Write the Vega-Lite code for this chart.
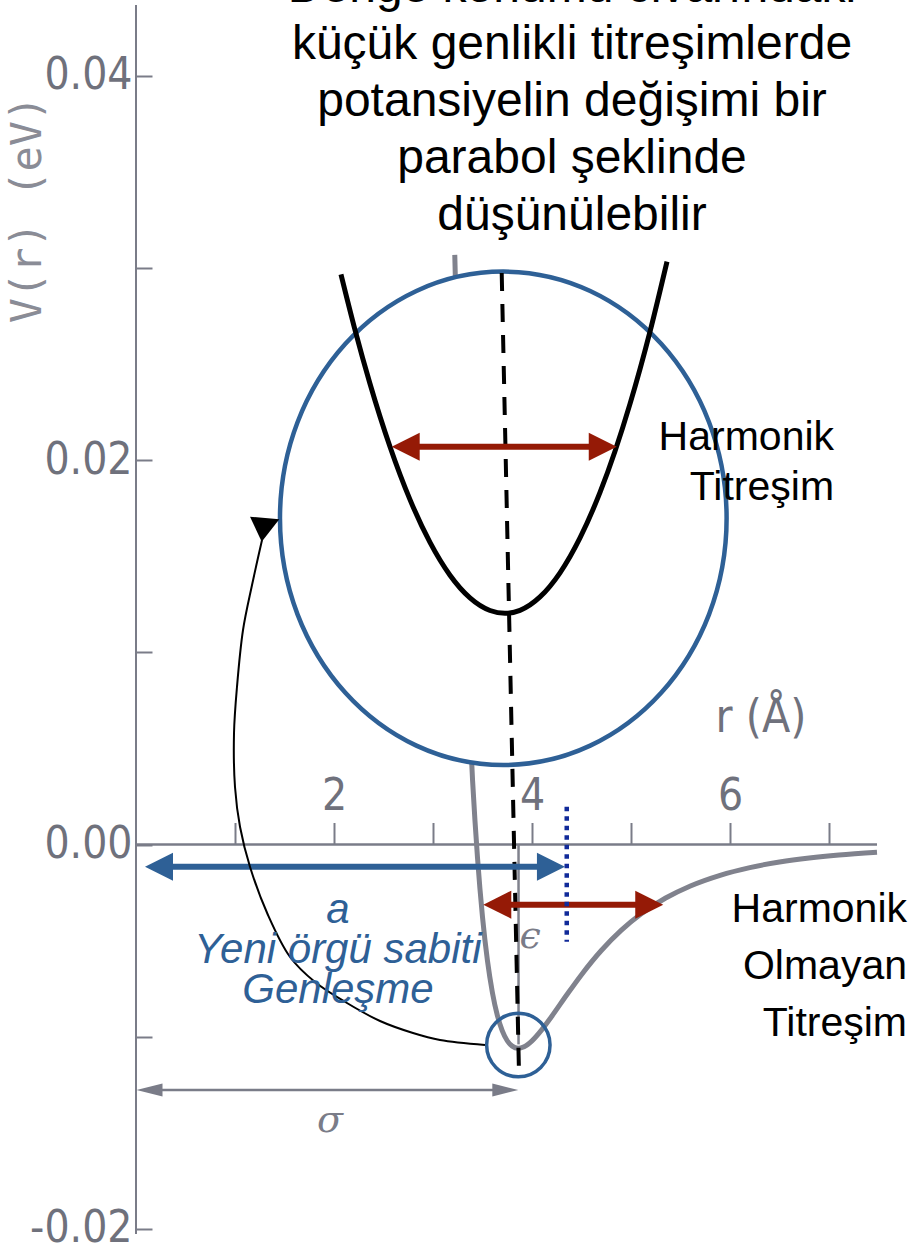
{
  "$schema": "https://vega.github.io/schema/vega-lite/v6.json",
  "width": 918,
  "height": 1257,
  "autosize": "none",
  "padding": 0,
  "background": "white",
  "config": {"view": {"stroke": null}},
  "resolve": {"axis": {"y": "independent", "x": "independent"}, "scale": {"shape": "independent", "color": "independent"}},
  "datasets": {
    "yaxis": [{"r": 0, "V1": 0.043679, "V2": -0.02026}],
    "xaxis": [{"r1": 0, "r2": 7.485, "V": 0}],
    "lj": [
      {"r": 3.22, "V": 0.03068}, {"r": 3.26, "V": 0.02227}, {"r": 3.30, "V": 0.01540},
      {"r": 3.35, "V": 0.00858}, {"r": 3.40, "V": 0.003305}, {"r": 3.45, "V": -0.00072},
      {"r": 3.50, "V": -0.003766}, {"r": 3.55, "V": -0.006042}, {"r": 3.60, "V": -0.007705},
      {"r": 3.65, "V": -0.00889}, {"r": 3.70, "V": -0.009698}, {"r": 3.75, "V": -0.01021},
      {"r": 3.80, "V": -0.010492}, {"r": 3.86, "V": -0.0106}, {"r": 3.92, "V": -0.01052},
      {"r": 4.00, "V": -0.010214}, {"r": 4.10, "V": -0.009631}, {"r": 4.20, "V": -0.008936},
      {"r": 4.35, "V": -0.007834}, {"r": 4.50, "V": -0.006772}, {"r": 4.70, "V": -0.005516},
      {"r": 4.90, "V": -0.004469}, {"r": 5.10, "V": -0.003617}, {"r": 5.35, "V": -0.002785},
      {"r": 5.60, "V": -0.002156}, {"r": 5.90, "V": -0.001601}, {"r": 6.20, "V": -0.001201},
      {"r": 6.50, "V": -0.000911}, {"r": 6.80, "V": -0.000699}, {"r": 7.10, "V": -0.000541},
      {"r": 7.485, "V": -0.000397}
    ],
    "epsline": [{"r": 3.864, "V1": 0, "V2": -0.0104}],
    "sigmaline": [{"r1": 0.19, "r2": 3.66, "V": -0.012773}],
    "sigmaheads": [{"r": 0.005, "V": -0.012773, "side": "left"}, {"r": 3.862, "V": -0.012773, "side": "right"}],
    "ellipse": [{"r": 3.71, "V": 0.016972}],
    "parabola": [
      {"r": 2.0707, "V": 0.029662}, {"r": 2.2121, "V": 0.026779}, {"r": 2.3636, "V": 0.023975},
      {"r": 2.5657, "V": 0.020697}, {"r": 2.7677, "V": 0.017945}, {"r": 2.9697, "V": 0.015718},
      {"r": 3.1717, "V": 0.014011}, {"r": 3.3737, "V": 0.01283}, {"r": 3.5758, "V": 0.012175},
      {"r": 3.7273, "V": 0.012029}, {"r": 3.8788, "V": 0.012185}, {"r": 4.0808, "V": 0.012882},
      {"r": 4.2828, "V": 0.014136}, {"r": 4.4848, "V": 0.015952}, {"r": 4.6869, "V": 0.018319},
      {"r": 4.8384, "V": 0.020463}, {"r": 4.9899, "V": 0.022924}, {"r": 5.1919, "V": 0.026686},
      {"r": 5.3636, "V": 0.030328}
    ],
    "dashed": [{"r1": 3.694, "V1": 0.029735, "r2": 3.869, "V2": -0.011993}],
    "shafts": [
      {"arrow": "harmonic", "from": 2.83, "to": 4.61, "V": 0.020697},
      {"arrow": "anharmonic", "from": 3.76, "to": 5.07, "V": -0.003132},
      {"arrow": "a", "from": 0.345, "to": 4.08, "V": -0.001155}
    ],
    "heads": [
      {"arrow": "harmonic", "side": "left", "r": 2.583, "V": 0.020697},
      {"arrow": "harmonic", "side": "right", "r": 4.856, "V": 0.020697},
      {"arrow": "anharmonic", "side": "left", "r": 3.508, "V": -0.003132},
      {"arrow": "anharmonic", "side": "right", "r": 5.326, "V": -0.003132},
      {"arrow": "a", "side": "left", "r": 0.091, "V": -0.001155},
      {"arrow": "a", "side": "right", "r": 4.333, "V": -0.001155}
    ],
    "dotted": [{"r": 4.351, "V1": 0.001967, "V2": -0.005057}],
    "smallcircle": [{"r": 3.862, "V": -0.010432}],
    "curve": [
      {"i": 1, "r": 3.525, "V": -0.010432}, {"i": 2, "r": 3.071, "V": -0.010172},
      {"i": 3, "r": 2.798, "V": -0.009808}, {"i": 4, "r": 2.465, "V": -0.009183},
      {"i": 5, "r": 2.131, "V": -0.008247}, {"i": 6, "r": 1.808, "V": -0.007154},
      {"i": 7, "r": 1.556, "V": -0.005853}, {"i": 8, "r": 1.333, "V": -0.003668},
      {"i": 9, "r": 1.152, "V": -0.001171}, {"i": 10, "r": 1.051, "V": 0.00091},
      {"i": 11, "r": 1.0, "V": 0.002992}, {"i": 12, "r": 0.99, "V": 0.005801},
      {"i": 13, "r": 1.02, "V": 0.008195}, {"i": 14, "r": 1.081, "V": 0.01116},
      {"i": 15, "r": 1.172, "V": 0.013502}, {"i": 16, "r": 1.273, "V": 0.015843}
    ],
    "curvehead": [{"r": 1.29, "V": 0.016577}],
    "texts": [
      {"id": "top", "label": "Denge konumu civarındaki\nküçük genlikli titreşimlerde\npotansiyelin değişimi bir\nparabol şeklinde\ndüşünülebilir", "r": 4.404, "V": 0.043835},
      {"id": "harm", "label": "Harmonik\nTitreşim", "r": 7.051, "V": 0.020526},
      {"id": "anharm", "label": "Harmonik\nOlmayan\nTitreşim", "r": 7.788, "V": -0.004032},
      {"id": "a", "label": "a\nYeni örgü sabiti\nGenleşme", "r": 2.04, "V": -0.004084},
      {"id": "sigma", "label": "σ", "r": 1.96, "V": -0.014386},
      {"id": "eps", "label": "ϵ", "r": 3.98, "V": -0.004813},
      {"id": "rA", "label": "r (Å)", "r": 6.313, "V": 0.006556},
      {"id": "vr", "label": "V(r)  (eV)", "r": -1.086, "V": 0.033039}
    ]
  },
  "layer": [
    {
      "data": {"name": "yaxis"},
      "mark": {"type": "rule", "color": "#7A7C88", "strokeWidth": 2},
      "encoding": {
        "x": {"field": "r", "type": "quantitative",
          "scale": {"domain": [-1.37374, 7.89899], "nice": false, "zero": false},
          "axis": {"orient": "top", "offset": -844.5, "values": [1, 2, 3, 4, 5, 6, 7], "domain": false, "grid": false, "title": null,
            "tickSize": 22, "tickWidth": 2, "tickColor": "#7A7C88", "labelPadding": 4,
            "labelExpr": "datum.value % 2 == 0 ? datum.label : ''",
            "labelFont": "Liberation Sans Narrow, DejaVu Sans Condensed, sans-serif", "labelFontSize": 44, "labelColor": "#6F717C",
            "labelFlush": false, "labelOverlap": false, "labelBound": false}},
        "y": {"field": "V1", "type": "quantitative",
          "scale": {"domain": [-0.021462, 0.043939], "nice": false, "zero": false},
          "axis": {"orient": "left", "offset": -136, "values": [0.04, 0.02, 0, -0.02], "domain": false, "grid": false, "title": null,
            "ticks": false, "tickSize": 0, "labelPadding": 4,
            "labelExpr": "replace(format(datum.value, '.2f'), '\u2212', '-')",
            "labelFont": "Liberation Sans Narrow, DejaVu Sans Condensed, sans-serif", "labelFontSize": 44, "labelColor": "#6F717C",
            "labelAlign": "right", "labelBaseline": "middle", "labelOverlap": false, "labelFlush": false, "labelBound": false}},
        "y2": {"field": "V2"}
      }
    },
    {
      "data": {"name": "xaxis"},
      "mark": {"type": "rule", "color": "#7A7C88", "strokeWidth": 2.5},
      "encoding": {
        "x": {"field": "r1", "type": "quantitative", "axis": null},
        "x2": {"field": "r2"},
        "y": {"field": "V", "type": "quantitative",
          "axis": {"orient": "right", "offset": -782, "values": [0.04, 0.03, 0.02, 0.01, 0, -0.01, -0.02], "domain": false, "grid": false, "title": null,
            "labels": false, "tickSize": 16, "tickWidth": 2, "tickColor": "#7A7C88"}}
      }
    },
    {
      "data": {"name": "lj"},
      "mark": {"type": "line", "color": "#80828D", "strokeWidth": 5, "interpolate": "monotone"},
      "encoding": {
        "x": {"field": "r", "type": "quantitative", "axis": null},
        "y": {"field": "V", "type": "quantitative", "axis": null}
      }
    },
    {
      "data": {"name": "epsline"},
      "mark": {"type": "rule", "color": "#80828D", "strokeWidth": 2.5},
      "encoding": {
        "x": {"field": "r", "type": "quantitative", "axis": null},
        "y": {"field": "V1", "type": "quantitative", "axis": null},
        "y2": {"field": "V2"}
      }
    },
    {
      "data": {"name": "sigmaline"},
      "mark": {"type": "rule", "color": "#7A7C88", "strokeWidth": 2.5},
      "encoding": {
        "x": {"field": "r1", "type": "quantitative", "axis": null},
        "x2": {"field": "r2"},
        "y": {"field": "V", "type": "quantitative", "axis": null}
      }
    },
    {
      "data": {"name": "sigmaheads"},
      "mark": {"type": "point", "filled": true, "opacity": 1, "size": 169, "color": "#7A7C88", "strokeWidth": 0},
      "encoding": {
        "x": {"field": "r", "type": "quantitative", "axis": null},
        "y": {"field": "V", "type": "quantitative", "axis": null},
        "shape": {"field": "side", "type": "nominal", "legend": null,
          "scale": {"domain": ["left", "right"], "range": ["M 0 0 L 4 -1 L 4 1 Z", "M 0 0 L -4 -1 L -4 1 Z"]}}
      }
    },
    {
      "data": {"name": "ellipse"},
      "mark": {"type": "point", "filled": true, "opacity": 1, "fill": "white", "stroke": "#2E6096", "strokeWidth": 4.5, "size": 243443,
        "shape": "M 0.9052 0 C 0.9052 0.5523 0.4999 1 0 1 C -0.4999 1 -0.9052 0.5523 -0.9052 0 C -0.9052 -0.5523 -0.4999 -1 0 -1 C 0.4999 -1 0.9052 -0.5523 0.9052 0 Z"},
      "encoding": {
        "x": {"field": "r", "type": "quantitative", "axis": null},
        "y": {"field": "V", "type": "quantitative", "axis": null}
      }
    },
    {
      "data": {"name": "parabola"},
      "mark": {"type": "line", "color": "black", "strokeWidth": 5, "interpolate": "monotone"},
      "encoding": {
        "x": {"field": "r", "type": "quantitative", "axis": null},
        "y": {"field": "V", "type": "quantitative", "axis": null}
      }
    },
    {
      "data": {"name": "dashed"},
      "mark": {"type": "rule", "color": "black", "strokeWidth": 4, "strokeDash": [18, 13]},
      "encoding": {
        "x": {"field": "r1", "type": "quantitative", "axis": null},
        "y": {"field": "V1", "type": "quantitative", "axis": null},
        "x2": {"field": "r2"},
        "y2": {"field": "V2"}
      }
    },
    {
      "data": {"name": "shafts"},
      "mark": {"type": "rule", "strokeWidth": 6},
      "encoding": {
        "x": {"field": "from", "type": "quantitative", "axis": null},
        "x2": {"field": "to"},
        "y": {"field": "V", "type": "quantitative", "axis": null},
        "color": {"field": "arrow", "type": "nominal", "legend": null,
          "scale": {"domain": ["harmonic", "anharmonic", "a"], "range": ["#951A06", "#951A06", "#2E6096"]}}
      }
    },
    {
      "data": {"name": "heads"},
      "mark": {"type": "point", "filled": true, "opacity": 1, "size": 784, "strokeWidth": 0},
      "encoding": {
        "x": {"field": "r", "type": "quantitative", "axis": null},
        "y": {"field": "V", "type": "quantitative", "axis": null},
        "color": {"field": "arrow", "type": "nominal", "legend": null,
          "scale": {"domain": ["harmonic", "anharmonic", "a"], "range": ["#951A06", "#951A06", "#2E6096"]}},
        "shape": {"field": "side", "type": "nominal", "legend": null,
          "scale": {"domain": ["left", "right"], "range": ["M 0 0 L 2 -1 L 2 1 Z", "M 0 0 L -2 -1 L -2 1 Z"]}}
      }
    },
    {
      "data": {"name": "dotted"},
      "mark": {"type": "rule", "color": "#112A99", "strokeWidth": 4.5, "strokeDash": [4.5, 5]},
      "encoding": {
        "x": {"field": "r", "type": "quantitative", "axis": null},
        "y": {"field": "V1", "type": "quantitative", "axis": null},
        "y2": {"field": "V2"}
      }
    },
    {
      "data": {"name": "smallcircle"},
      "mark": {"type": "point", "shape": "circle", "filled": false, "opacity": 1, "size": 4020, "stroke": "#2E6096", "strokeWidth": 3.5},
      "encoding": {
        "x": {"field": "r", "type": "quantitative", "axis": null},
        "y": {"field": "V", "type": "quantitative", "axis": null}
      }
    },
    {
      "data": {"name": "curve"},
      "mark": {"type": "line", "color": "black", "strokeWidth": 2, "interpolate": "catmull-rom"},
      "encoding": {
        "x": {"field": "r", "type": "quantitative", "axis": null},
        "y": {"field": "V", "type": "quantitative", "axis": null},
        "order": {"field": "i", "type": "quantitative"}
      }
    },
    {
      "data": {"name": "curvehead"},
      "mark": {"type": "point", "filled": true, "opacity": 1, "size": 1024, "color": "black", "strokeWidth": 0,
        "shape": "M -0.856 -0.575 L 0.975 -0.413 L -0.125 0.988 Z"},
      "encoding": {
        "x": {"field": "r", "type": "quantitative", "axis": null},
        "y": {"field": "V", "type": "quantitative", "axis": null}
      }
    },
    {
      "data": {"name": "texts"},
      "transform": [{"filter": "datum.id == 'top'"}],
      "mark": {"type": "text", "font": "Liberation Sans", "fontSize": 48, "color": "black", "align": "center", "baseline": "alphabetic", "lineBreak": "\n", "lineHeight": 57},
      "encoding": {
        "x": {"field": "r", "type": "quantitative", "axis": null},
        "y": {"field": "V", "type": "quantitative", "axis": null},
        "text": {"field": "label"}
      }
    },
    {
      "data": {"name": "texts"},
      "transform": [{"filter": "datum.id == 'harm'"}],
      "mark": {"type": "text", "font": "Liberation Sans", "fontSize": 41, "color": "black", "align": "right", "baseline": "alphabetic", "lineBreak": "\n", "lineHeight": 50},
      "encoding": {
        "x": {"field": "r", "type": "quantitative", "axis": null},
        "y": {"field": "V", "type": "quantitative", "axis": null},
        "text": {"field": "label"}
      }
    },
    {
      "data": {"name": "texts"},
      "transform": [{"filter": "datum.id == 'anharm'"}],
      "mark": {"type": "text", "font": "Liberation Sans", "fontSize": 41, "color": "black", "align": "right", "baseline": "alphabetic", "lineBreak": "\n", "lineHeight": 57},
      "encoding": {
        "x": {"field": "r", "type": "quantitative", "axis": null},
        "y": {"field": "V", "type": "quantitative", "axis": null},
        "text": {"field": "label"}
      }
    },
    {
      "data": {"name": "texts"},
      "transform": [{"filter": "datum.id == 'a'"}],
      "mark": {"type": "text", "font": "Liberation Sans", "fontSize": 42, "fontStyle": "italic", "color": "#2E6096", "align": "center", "baseline": "alphabetic", "lineBreak": "\n", "lineHeight": 40},
      "encoding": {
        "x": {"field": "r", "type": "quantitative", "axis": null},
        "y": {"field": "V", "type": "quantitative", "axis": null},
        "text": {"field": "label"}
      }
    },
    {
      "data": {"name": "texts"},
      "transform": [{"filter": "datum.id == 'sigma' || datum.id == 'eps'"}],
      "mark": {"type": "text", "font": "DejaVu Serif", "fontSize": 38, "fontStyle": "italic", "color": "#7A7C88", "align": "center", "baseline": "middle"},
      "encoding": {
        "x": {"field": "r", "type": "quantitative", "axis": null},
        "y": {"field": "V", "type": "quantitative", "axis": null},
        "text": {"field": "label"}
      }
    },
    {
      "data": {"name": "texts"},
      "transform": [{"filter": "datum.id == 'rA'"}],
      "mark": {"type": "text", "font": "Liberation Sans Narrow, DejaVu Sans Condensed, sans-serif", "fontSize": 46, "color": "#6F717C", "align": "center", "baseline": "middle"},
      "encoding": {
        "x": {"field": "r", "type": "quantitative", "axis": null},
        "y": {"field": "V", "type": "quantitative", "axis": null},
        "text": {"field": "label"}
      }
    },
    {
      "data": {"name": "texts"},
      "transform": [{"filter": "datum.id == 'vr'"}],
      "mark": {"type": "text", "font": "DejaVu Sans Mono", "fontSize": 42, "color": "#8A8C96", "align": "center", "baseline": "middle", "angle": 270},
      "encoding": {
        "x": {"field": "r", "type": "quantitative", "axis": null},
        "y": {"field": "V", "type": "quantitative", "axis": null},
        "text": {"field": "label"}
      }
    }
  ]
}
